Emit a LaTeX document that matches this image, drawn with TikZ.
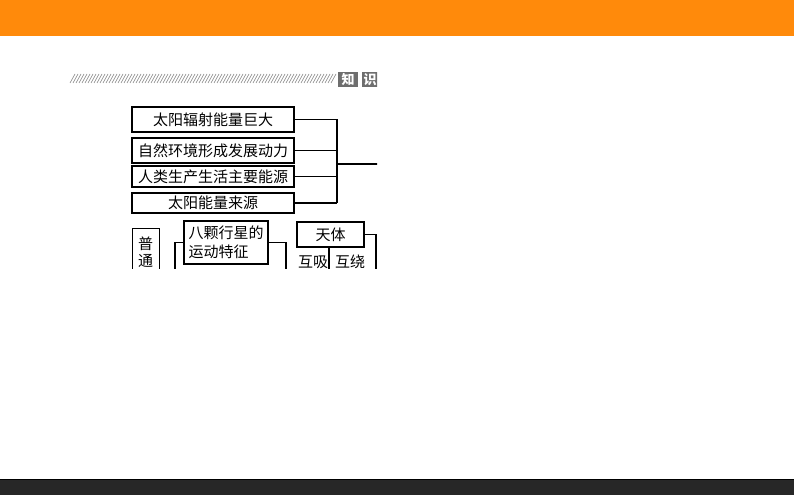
\documentclass[tikz,border=0pt]{standalone}
\usepackage{fontspec}
\newfontfamily\cjk{Noto Sans CJK SC}
\definecolor{hdrorange}{HTML}{FF8A0B}
\definecolor{ftrdark}{HTML}{272727}
\definecolor{tabgray}{HTML}{6E6E6E}
\definecolor{hatchgray}{HTML}{8A8A8A}
\tikzset{
  txtbox/.style={draw=black, line width=1.1pt, inner sep=0pt, font=\cjk\fontsize{15}{17}\selectfont, text=black},
  conn/.style={draw=black, line width=1.1pt},
  tab/.style={fill=tabgray, inner sep=0pt, text=white, font=\cjk\bfseries\fontsize{13}{13}\selectfont}
}
\begin{document}
\begin{tikzpicture}[x=1pt,y=-1pt]
\useasboundingbox (0,0) rectangle (794,495);
% header and footer bars
\fill[hdrorange] (0,0) rectangle (794,36);
\fill[ftrdark] (0,479) rectangle (794,495);
\draw[black, line width=0.8pt] (0,479) -- (794,479);
\begin{scope}
\clip (60,62) rectangle (377,268);
% hatch line
\foreach \i in {0,...,87} \draw[hatchgray, line width=0.6pt] (70+3*\i,83) -- (75+3*\i,74);
\node[tab, minimum width=20pt, minimum height=15pt] (tab1) at (348,79.5) {知};
\node[tab, minimum width=16pt, minimum height=15pt, anchor=west] (tab2) at (362,79.5) {识};
% upper boxes
\node[txtbox, minimum width=162pt, minimum height=25pt] (b1) at (213,119.5) {太阳辐射能量巨大};
\node[txtbox, minimum width=162pt, minimum height=25pt] (b2) at (213,150.5) {自然环境形成发展动力};
\node[txtbox, minimum width=162pt, minimum height=21pt] (b3) at (213,176.5) {人类生产生活主要能源};
\node[txtbox, minimum width=162pt, minimum height=20pt] (b4) at (213,203) {太阳能量来源};
\coordinate (jb) at (337,203);
\coordinate (jm) at (337,164);
\coordinate (out) at (380,164);
\draw[conn] (b1.east) -| (jb);
\draw[conn] (b2.east) -- (b2.east -| jb);
\draw[conn] (b3.east) -- (b3.east -| jb);
\draw[conn] (b4.east) -- (jb);
\draw[conn] (jm) -- (out);
% lower part
\node[txtbox, minimum width=27pt, minimum height=60pt, anchor=north west, align=center, text depth=0pt] (pt) at (132,228) {};
\node[font=\cjk\fontsize{15}{17}\selectfont, inner sep=0pt] (pt1) at (145.5,244) {普};
\node[font=\cjk\fontsize{15}{17}\selectfont, inner sep=0pt] (pt2) at (145.5,261) {通};
\node[font=\cjk\fontsize{15}{17}\selectfont, inner sep=0pt] (pt3) at (145.5,278) {行};
\node[txtbox, minimum width=84pt, minimum height=43pt, align=left] (bx) at (226,242.5) {八颗行星的\\[2pt]运动特征};
\coordinate (lx) at (175,290);
\coordinate (rx) at (286,290);
\draw[conn] (bx.west) -| (lx);
\draw[conn] (bx.east) -| (rx);
\node[txtbox, minimum width=67pt, minimum height=25pt] (tt) at (330.5,234.5) {天体};
\coordinate (tr) at (376,290);
\draw[conn] (tt.east) -| (tr);
\coordinate (mid) at (329,290);
\draw[conn] (tt.south -| mid) -- (mid);
\node[font=\cjk\fontsize{15}{17}\selectfont, inner sep=0pt] (hx) at (313,262) {互吸};
\node[font=\cjk\fontsize{15}{17}\selectfont, inner sep=0pt] (hr) at (350,262) {互绕};
\end{scope}
\end{tikzpicture}
\end{document}
